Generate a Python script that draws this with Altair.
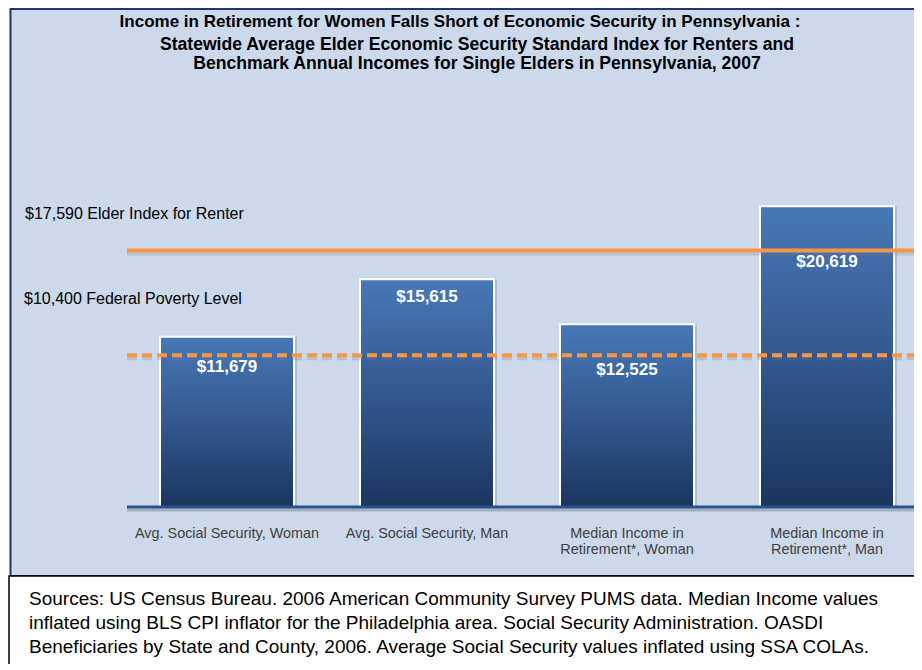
import altair as alt
import pandas as pd

# ---- data ----
categories = [
    "Avg. Social Security, Woman",
    "Avg. Social Security, Man",
    "Median Income in\nRetirement*, Woman",
    "Median Income in\nRetirement*, Man",
]
incomes = [11679, 15615, 12525, 20619]
elder_index = 17590
poverty_level = 10400

title_lines = [
    "Income in Retirement for  Women Falls Short of Economic Security in Pennsylvania :",
    "Statewide Average Elder Economic Security Standard Index for Renters and",
    "Benchmark Annual Incomes for Single Elders in Pennsylvania, 2007",
]
source_lines = [
    "Sources: US Census Bureau. 2006 American Community Survey PUMS data. Median Income values",
    "inflated using BLS CPI inflator for the Philadelphia area. Social Security Administration. OASDI",
    "Beneficiaries by State and County, 2006.  Average Social Security values inflated using SSA COLAs.",
]

# styling: label offsets below the bar tops (px), title line placement (px)
label_offsets = [30, 18, 46, 56]
title_pos = [(333, -135, 17.0), (350, -112, 17.6), (350, -93, 17.6)]

NARROW = "Liberation Sans Narrow, Arial Narrow, Liberation Sans, Arial, sans-serif"
SANS = "Liberation Sans, Arial, Helvetica, sans-serif"
ORANGE = "#F79646"

W, H = 787, 350
YMAX = 24000
ydom = alt.Scale(domain=[0, YMAX])
xscale = alt.Scale(domain=categories, paddingInner=0.33, paddingOuter=0.1325, align=0.6226)

bars_df = pd.DataFrame({
    "cat": categories,
    "value": incomes,
    "label": ["${:,}".format(v) for v in incomes],
    "off": label_offsets,
})
one = alt.Data(values=[{}])

xaxis = alt.Axis(title=None, domain=False, ticks=False, labelAngle=0,
                 labelExpr="split(datum.label, '\\n')", labelOverlap=False, labelLimit=0,
                 labelFont=NARROW, labelFontSize=14.4, labelColor="#404040",
                 labelLineHeight=16, labelPadding=19, labelBaseline="top",
                 grid=False, zindex=1)

panel = alt.Chart(one).mark_rect(fill="#CCD9EA", stroke="#1F3864", strokeWidth=2).encode(
    x=alt.value(-116.5), x2=alt.value(810), y=alt.value(-148), y2=alt.value(419)
)
src_box = alt.Chart(one).mark_rect(fill="white", stroke="black", strokeWidth=1.5).encode(
    x=alt.value(-118), x2=alt.value(810), y=alt.value(419), y2=alt.value(620)
)

title_layers = [
    alt.Chart(one).mark_text(
        text=line, font=NARROW, fontSize=fs, fontWeight="bold", color="black",
        align="center", baseline="middle",
    ).encode(x=alt.value(px), y=alt.value(py))
    for line, (px, py, fs) in zip(title_lines, title_pos)
]

ann_elder = alt.Chart(one).mark_text(
    text="${:,} Elder Index for Renter".format(elder_index), font=SANS, fontSize=16,
    color="black", align="left", baseline="middle",
).encode(x=alt.value(-102), y=alt.value(57))
ann_pov = alt.Chart(one).mark_text(
    text="${:,} Federal Poverty Level".format(poverty_level), font=SANS, fontSize=16,
    color="black", align="left", baseline="middle",
).encode(x=alt.value(-103), y=alt.value(142))

bar_shadow = alt.Chart(bars_df).mark_bar(color="#7f8fa6", opacity=0.35, xOffset=3).encode(
    x=alt.X("cat:N", scale=xscale, axis=xaxis, sort=categories),
    y=alt.Y("value:Q", scale=ydom, axis=None),
)

grad = alt.Gradient(
    gradient="linear",
    stops=[alt.GradientStop(color="#4778B6", offset=0),
           alt.GradientStop(color="#33598F", offset=0.5),
           alt.GradientStop(color="#1B3560", offset=1)],
    x1=0, x2=0, y1=0, y2=1,
)
bars = alt.Chart(bars_df).mark_bar(fill=grad, stroke="white", strokeWidth=2).encode(
    x=alt.X("cat:N", scale=xscale, sort=categories, axis=xaxis),
    y=alt.Y("value:Q", scale=ydom, axis=None),
)

lines_df = pd.DataFrame({"v": [elder_index]})
pov_df = pd.DataFrame({"v": [poverty_level]})

elder_shadow = alt.Chart(lines_df).mark_rule(color="#6b7890", opacity=0.25, strokeWidth=4, yOffset=3).encode(
    y=alt.Y("v:Q", scale=ydom, axis=None), x=alt.value(0), x2=alt.value(810))
elder_line = alt.Chart(lines_df).mark_rule(color=ORANGE, strokeWidth=4).encode(
    y=alt.Y("v:Q", scale=ydom, axis=None), x=alt.value(0), x2=alt.value(810))
pov_shadow = alt.Chart(pov_df).mark_rule(color="#6b7890", opacity=0.25, strokeWidth=4, yOffset=3,
                                         strokeDash=[10, 5]).encode(
    y=alt.Y("v:Q", scale=ydom, axis=None), x=alt.value(0), x2=alt.value(810))
pov_line = alt.Chart(pov_df).mark_rule(color=ORANGE, strokeWidth=4, strokeDash=[10, 5]).encode(
    y=alt.Y("v:Q", scale=ydom, axis=None), x=alt.value(0), x2=alt.value(810))

base_shadow = alt.Chart(one).mark_rule(color="#7a8799", opacity=0.5, strokeWidth=3, yOffset=3).encode(
    y=alt.datum(0, scale=ydom, axis=None), x=alt.value(0), x2=alt.value(810))
baseline = alt.Chart(one).mark_rule(color="#2A5088", strokeWidth=3).encode(
    y=alt.datum(0, scale=ydom, axis=None), x=alt.value(0), x2=alt.value(810))

bar_labels = alt.Chart(bars_df).transform_calculate(
    ly="datum.value - datum.off * %f" % (YMAX / H)
).mark_text(
    font=SANS, fontSize=17, fontWeight="bold", color="white", baseline="middle", align="center"
).encode(
    x=alt.X("cat:N", scale=xscale, sort=categories, axis=xaxis),
    y=alt.Y("ly:Q", scale=ydom, axis=None),
    text="label:N",
)

sources = alt.Chart(one).mark_text(
    text="\n".join(source_lines), lineBreak="\n", font=SANS, fontSize=19,
    color="black", align="left", baseline="top", lineHeight=24,
).encode(x=alt.value(-98), y=alt.value(433))

chart = alt.layer(
    panel, src_box, *title_layers, ann_elder, ann_pov,
    bar_shadow, bars, elder_shadow, elder_line, pov_shadow, pov_line,
    base_shadow, baseline, bar_labels, sources,
).resolve_scale(y="shared", x="shared").properties(
    width=W, height=H,
    padding={"left": 119, "top": 149, "right": 0, "bottom": 157},
    autosize=alt.AutoSizeParams(type="none"),
    background="white",
).configure_view(stroke=None)

chart.save("out.html", embed_options={"renderer": "svg", "actions": False})
